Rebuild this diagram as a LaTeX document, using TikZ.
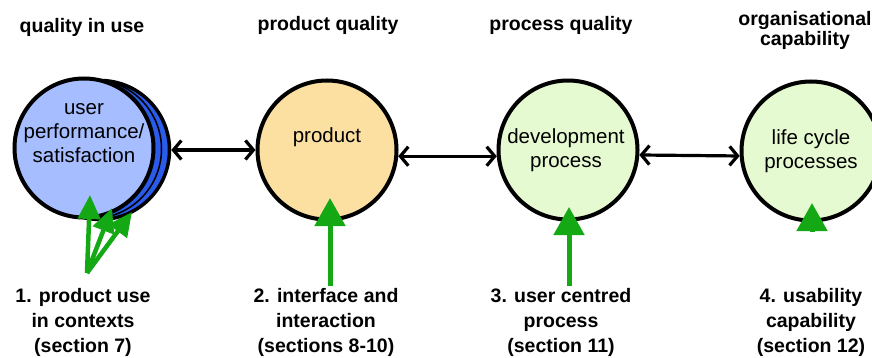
\documentclass[tikz,border=0pt]{standalone}
\usepackage{fontspec}
\setmainfont{Liberation Sans}
\usetikzlibrary{arrows.meta}
\definecolor{userblue}{HTML}{A6BDFF}
\definecolor{shadeblue}{HTML}{2A5BEA}
\definecolor{prodfill}{HTML}{FCE0A2}
\definecolor{procfill}{HTML}{E6FAD2}
\definecolor{arrowgreen}{HTML}{14A814}
\begin{document}
\begin{tikzpicture}[x=1pt,y=-1pt,
  stage/.style={circle,draw=black,line width=4pt,minimum size=139pt,inner sep=0pt},
  intext/.style={align=center,inner sep=0pt,font=\fontsize{20.5}{24}\selectfont},
  heading/.style={align=center,inner sep=0pt,font=\fontsize{19.5}{20}\selectfont\bfseries},
  section/.style={align=center,inner sep=2pt,font=\fontsize{19.5}{25}\selectfont\bfseries},
  link/.style={line width=3.2pt,{Straight Barb[length=8pt,width=19pt]}-{Straight Barb[length=8pt,width=19pt]}},
  usearrow/.style={draw=arrowgreen,line width=5pt,-{Triangle[length=28pt,width=30pt]}},
  fanarrow/.style={draw=arrowgreen,line width=4.5pt,-{Triangle[length=24pt,width=22pt]}}]
  \useasboundingbox[fill=white] (0,0) rectangle (872,358);
  % headings
  \node[heading] (h1) at (82,27) {quality in use};
  \node[heading] (h2) at (328,25) {product quality};
  \node[heading] (h3) at (561,25) {process quality};
  \node[heading] (h4) at (805,30) {organisational\\capability};
  % circles
  \node[stage,fill=shadeblue,line width=3.5pt] (user3) at (100,150) {};
  \node[stage,fill=shadeblue,line width=1.5pt] (user2) at (92,149) {};
  \node[stage,fill=userblue] (user) at (84,148) {};
  \node[stage,fill=prodfill] (prod) at (327,150) {};
  \node[stage,fill=procfill] (proc) at (568,150) {};
  \node[stage,fill=procfill] (life) at (811,151) {};
  \node[intext] (usertext) at (84,133) {user\\performance/\\satisfaction};
  \node[intext] (prodtext) at (327,137) {product};
  \node[intext] (proctext) at (566,150) {development\\process};
  \node[intext] (lifetext) at (811,151) {life cycle\\processes};
  % links
  \draw[link] (user3.east) -- (prod.west);
  \draw[link] (prod.-5) -- (proc.185);
  \draw[link] (proc.-4) -- (life.184);
  % sections
  \node[section] (sec1) at (83,322) {1. product use\\in contexts\\(section 7)};
  \node[section] (sec2) at (326,322) {2. interface and\\interaction\\(sections 8-10)};
  \node[section] (sec3) at (561,322) {3. user centred\\process\\(section 11)};
  \node[section] (sec4) at (811,322) {4. usability\\capability\\(section 12)};
  % green arrows
  \coordinate (b1) at (87,273);
  \coordinate (t1a) at (90,195);
  \coordinate (t1b) at (112,208);
  \coordinate (t1c) at (132,212);
  \coordinate (t2) at (330,198);
  \coordinate (t3) at (569,207);
  \coordinate (b4) at (812,232);
  \coordinate (t4) at (812,203);
  \draw[fanarrow] (b1) -- (t1a);
  \draw[fanarrow] (b1) -- (t1b);
  \draw[fanarrow] (b1) -- (t1c);
  \draw[usearrow] (sec2.north -| t2) -- (t2);
  \draw[usearrow] (sec3.north -| t3) -- (t3);
  \draw[usearrow] (b4) -- (t4);
\end{tikzpicture}
\end{document}
